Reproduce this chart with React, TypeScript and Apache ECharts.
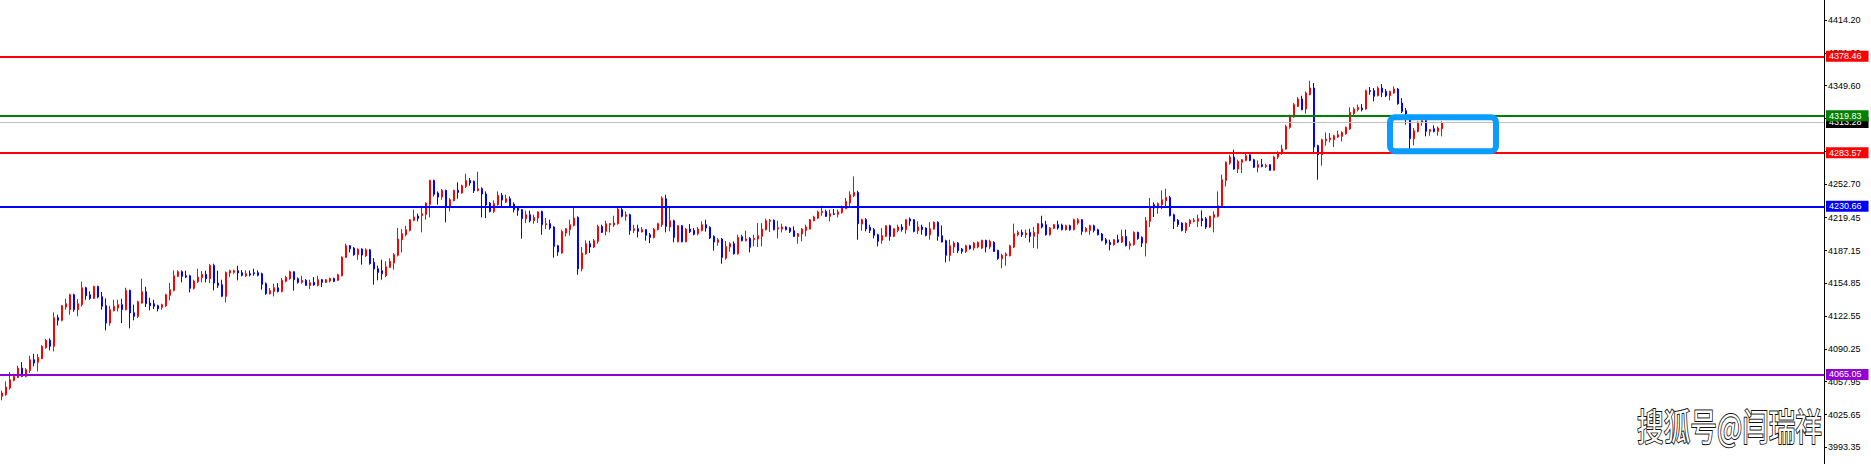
import React, { useEffect, useRef } from 'react';
import * as echarts from 'echarts';

// ---- data (price units) ----
const opens = [
4043.5,4045.1,4051.7,4059.3,4062.2,4071.4,4063.2,4069.1,4079.6,4077.0,
4080.6,4091.4,4098.7,4092.8,4121.0,4118.4,4131.5,4128.9,4143.6,4128.9,
4133.8,4150.5,4143.6,4140.0,4151.8,4141.7,4132.8,4115.7,4127.9,4130.5,
4133.8,4128.9,4147.9,4125.9,4122.3,4135.4,4146.6,4135.4,4134.8,4132.8,
4131.2,4132.8,4143.0,4147.9,4161.7,4166.3,4162.3,4162.3,4149.9,4156.4,
4160.4,4163.7,4159.4,4172.5,4155.1,4153.5,4142.0,4165.0,4165.6,4167.3,
4165.3,4162.3,4164.3,4165.3,4165.3,4164.3,4154.5,4144.6,4146.9,4150.5,
4146.9,4156.8,4159.4,4166.3,4159.4,4155.8,4157.8,4152.8,4155.8,4152.8,
4158.4,4155.8,4157.1,4159.7,4157.8,4162.3,4180.4,4191.9,4189.6,4183.0,
4188.6,4182.0,4187.9,4175.5,4169.2,4167.3,4162.3,4170.6,4174.8,4182.4,
4197.8,4202.7,4207.0,4216.9,4221.1,4221.4,4222.8,4232.6,4256.2,4243.8,
4239.8,4246.4,4229.7,4236.2,4246.4,4243.8,4250.3,4256.2,4255.3,4246.1,
4248.0,4242.8,4233.9,4225.7,4232.3,4241.5,4234.9,4238.2,4232.9,4229.0,
4227.4,4218.5,4222.4,4216.5,4219.1,4225.7,4212.6,4213.6,4210.3,4191.9,
4184.7,4204.4,4207.7,4211.9,4219.8,4169.2,4184.0,4193.9,4190.6,4196.2,
4210.9,4206.0,4212.6,4212.3,4213.6,4227.4,4220.8,4222.4,4207.0,4208.6,
4205.4,4207.7,4202.7,4200.1,4207.7,4212.6,4238.2,4210.3,4216.5,4195.8,
4211.6,4195.8,4208.3,4207.0,4203.7,4207.0,4212.6,4210.0,4201.1,4195.2,
4198.5,4179.7,4190.6,4193.9,4184.0,4200.8,4196.8,4199.1,4197.8,4198.5,
4201.1,4207.7,4215.9,4216.9,4208.3,4208.3,4210.3,4209.3,4206.7,4201.1,
4203.4,4207.0,4208.3,4216.5,4219.1,4224.7,4225.7,4220.8,4223.4,4222.8,
4224.7,4228.3,4233.9,4241.1,4244.4,4213.2,4217.5,4210.0,4207.7,4202.7,
4197.2,4201.1,4211.6,4201.1,4207.0,4210.3,4207.7,4218.2,4217.5,4206.7,
4210.3,4209.3,4202.7,4208.3,4214.9,4201.8,4196.8,4182.4,4190.6,4194.5,
4188.6,4186.3,4191.9,4189.6,4190.6,4189.6,4197.2,4190.6,4195.2,4187.3,
4179.1,4182.0,4182.0,4190.6,4202.7,4205.0,4202.7,4205.0,4201.1,4203.7,
4213.6,4212.6,4202.7,4209.0,4212.6,4212.3,4207.7,4211.6,4207.7,4214.2,
4217.5,4206.0,4207.0,4211.6,4207.7,4203.4,4197.8,4195.2,4192.9,4197.8,
4195.5,4201.1,4191.9,4192.9,4205.0,4200.1,4194.5,4215.9,4232.3,4229.0,
4232.3,4236.2,4239.5,4222.4,4216.9,4214.2,4207.0,4213.6,4215.9,4215.9,
4218.5,4218.5,4210.3,4219.8,4220.8,4230.0,4256.2,4273.3,4279.2,4267.4,
4274.0,4275.9,4281.5,4276.6,4269.1,4271.7,4270.0,4271.7,4266.1,4279.2,
4283.2,4287.1,4308.5,4318.6,4329.1,4336.4,4326.5,4340.6,4347.2,4290.4,
4281.5,4295.3,4296.3,4296.3,4298.9,4299.6,4302.2,4306.8,4321.9,4325.9,
4327.5,4326.5,4344.6,4344.6,4339.6,4347.2,4343.9,4339.6,4342.3,4346.2,
4332.4,4324.9,4316.0,4297.3,4304.5,4313.4,4315.0,4304.5,4307.1,4304.5,
4307.1
];

const highs = [
4049.1,4058.3,4067.5,4065.8,4073.7,4077.3,4071.4,4083.6,4085.5,4085.2,
4093.7,4100.0,4100.6,4126.2,4123.9,4133.5,4139.7,4144.6,4144.6,4139.4,
4156.4,4151.5,4146.9,4152.5,4152.5,4146.3,4140.0,4132.8,4138.7,4138.7,
4139.7,4150.5,4148.6,4133.8,4137.7,4159.4,4151.5,4140.7,4138.7,4133.8,
4134.8,4144.6,4155.1,4167.6,4167.6,4167.6,4167.3,4163.3,4158.4,4169.2,
4167.0,4167.3,4173.8,4174.2,4167.3,4158.4,4166.6,4168.3,4168.3,4172.2,
4167.9,4167.6,4167.6,4169.2,4167.6,4165.3,4155.8,4150.2,4154.5,4155.1,
4160.0,4162.3,4167.3,4166.6,4160.7,4162.3,4159.1,4158.4,4161.0,4162.3,
4159.1,4159.1,4160.4,4160.4,4164.3,4181.4,4193.9,4192.6,4190.6,4189.3,
4189.3,4189.3,4188.6,4179.7,4172.2,4178.1,4176.5,4179.4,4184.7,4209.3,
4208.3,4211.6,4218.2,4227.4,4223.4,4230.6,4234.6,4256.9,4256.9,4245.4,
4247.7,4247.1,4238.8,4247.1,4254.3,4252.0,4262.8,4258.5,4256.2,4264.8,
4249.4,4245.4,4234.9,4236.5,4245.4,4243.8,4242.1,4240.5,4234.6,4230.6,
4228.0,4226.4,4226.4,4222.4,4225.7,4226.4,4219.1,4217.5,4211.0,4192.9,
4207.7,4209.3,4217.5,4230.6,4220.8,4190.6,4197.2,4196.8,4198.5,4212.6,
4212.6,4216.5,4214.2,4221.4,4229.7,4229.0,4225.7,4223.4,4212.6,4212.6,
4210.3,4208.3,4204.4,4209.3,4214.6,4240.5,4242.1,4229.0,4217.5,4212.3,
4212.3,4209.3,4213.2,4209.3,4210.3,4215.9,4217.5,4211.0,4202.1,4199.5,
4199.5,4196.5,4195.2,4196.2,4202.7,4202.7,4206.7,4200.4,4202.7,4214.2,
4214.2,4218.5,4218.2,4217.8,4216.5,4213.6,4211.0,4210.0,4211.0,4204.4,
4209.3,4212.6,4218.2,4221.4,4226.4,4231.3,4227.4,4227.4,4228.0,4227.4,
4231.3,4238.8,4245.4,4260.2,4246.1,4218.5,4219.1,4212.6,4209.3,4203.7,
4209.3,4211.9,4212.6,4209.3,4212.6,4213.2,4218.2,4219.8,4218.2,4215.9,
4212.6,4210.0,4215.2,4215.9,4215.9,4211.9,4197.8,4197.8,4196.2,4195.5,
4189.6,4192.9,4192.9,4195.5,4196.2,4197.8,4197.8,4197.8,4196.2,4188.0,
4184.0,4185.3,4192.9,4213.6,4207.0,4207.7,4207.7,4208.6,4210.3,4214.2,
4221.4,4216.5,4210.3,4213.2,4216.5,4213.6,4212.6,4212.6,4218.5,4219.1,
4218.2,4210.3,4212.6,4212.6,4208.6,4204.4,4199.5,4197.8,4198.5,4202.7,
4207.7,4207.7,4196.2,4206.0,4205.7,4201.1,4220.1,4238.8,4234.6,4234.6,
4246.4,4248.0,4241.1,4223.4,4218.2,4214.9,4214.9,4218.2,4219.1,4222.4,
4226.7,4220.1,4221.4,4225.7,4245.4,4261.8,4275.0,4281.5,4286.5,4276.6,
4277.3,4283.2,4283.8,4277.6,4275.9,4277.3,4272.7,4272.3,4280.5,4284.8,
4291.4,4311.1,4320.9,4332.4,4338.3,4339.6,4343.9,4354.4,4352.1,4291.4,
4297.3,4303.5,4302.9,4301.2,4305.2,4304.5,4309.4,4328.2,4328.2,4330.8,
4331.4,4345.6,4348.2,4347.2,4348.8,4351.1,4346.2,4344.6,4348.8,4347.2,
4337.3,4327.5,4316.7,4307.8,4314.4,4316.0,4316.0,4306.8,4310.4,4309.4,
4314.4
];

const lows = [
4039.6,4044.2,4050.1,4058.3,4061.6,4062.5,4062.2,4066.5,4073.1,4068.1,
4080.3,4090.5,4088.8,4087.8,4113.4,4117.4,4128.9,4123.9,4126.9,4122.3,
4132.2,4138.7,4138.7,4139.4,4140.0,4128.9,4108.5,4113.1,4127.2,4127.2,
4115.7,4128.2,4110.5,4118.4,4120.7,4134.8,4131.5,4128.2,4129.5,4127.2,
4128.9,4131.5,4138.1,4146.9,4161.0,4155.8,4160.0,4145.9,4148.6,4155.1,
4155.8,4155.8,4155.1,4147.9,4150.2,4141.3,4136.1,4161.0,4164.3,4157.8,
4161.7,4161.0,4161.7,4162.3,4161.7,4148.6,4143.6,4143.9,4142.0,4145.9,
4145.9,4155.8,4158.4,4147.6,4154.5,4154.5,4152.5,4149.2,4152.5,4151.8,
4151.2,4155.1,4155.8,4156.1,4157.1,4161.7,4179.7,4185.3,4182.0,4178.1,
4173.2,4180.7,4173.2,4153.5,4157.8,4158.4,4161.0,4169.9,4168.3,4181.4,
4185.3,4201.1,4206.0,4215.9,4215.9,4205.0,4217.5,4219.8,4240.5,4232.3,
4237.2,4214.9,4225.7,4235.6,4238.2,4243.1,4248.7,4251.0,4243.8,4245.4,
4219.8,4219.1,4224.7,4224.1,4231.3,4229.0,4233.9,4229.7,4224.7,4221.4,
4198.8,4214.2,4214.9,4213.6,4214.2,4202.7,4208.3,4207.7,4180.1,4182.0,
4184.0,4201.1,4201.8,4210.9,4163.3,4166.6,4183.0,4184.7,4189.6,4193.9,
4204.4,4202.1,4205.0,4210.3,4212.6,4219.8,4216.5,4202.7,4204.4,4200.1,
4205.0,4196.8,4194.5,4199.1,4207.0,4210.3,4205.0,4206.0,4195.2,4195.2,
4195.2,4195.2,4204.4,4202.1,4202.1,4206.0,4205.7,4198.5,4187.0,4191.9,
4174.2,4178.1,4186.0,4183.0,4183.0,4196.2,4196.2,4185.3,4191.2,4190.6,
4191.2,4207.0,4205.4,4207.0,4199.1,4205.0,4207.0,4204.4,4200.4,4193.9,
4196.2,4201.1,4207.7,4215.9,4218.2,4221.4,4220.1,4215.9,4222.1,4219.8,
4223.4,4228.0,4229.0,4239.8,4197.8,4206.7,4206.0,4204.4,4199.1,4191.2,
4193.9,4200.4,4196.8,4200.4,4205.0,4205.7,4203.7,4211.6,4205.0,4203.4,
4202.7,4201.1,4197.8,4207.7,4196.8,4195.2,4175.5,4176.5,4184.7,4184.7,
4184.0,4184.7,4188.0,4187.3,4189.3,4188.6,4185.3,4188.6,4185.7,4178.1,
4169.6,4172.2,4181.4,4189.6,4201.1,4200.4,4199.5,4195.2,4189.6,4189.0,
4209.0,4201.8,4201.8,4208.3,4207.7,4207.0,4207.0,4206.7,4207.0,4212.6,
4202.7,4205.0,4202.7,4205.0,4202.1,4196.2,4192.9,4187.3,4191.9,4194.5,
4194.5,4191.2,4188.0,4191.9,4197.8,4190.6,4181.4,4210.3,4220.1,4223.4,
4228.0,4230.6,4220.8,4208.3,4210.3,4206.0,4204.4,4210.3,4214.9,4210.3,
4210.9,4208.3,4209.3,4205.0,4219.8,4229.0,4250.3,4271.7,4266.8,4263.5,
4263.5,4275.0,4275.0,4268.4,4264.1,4269.1,4268.4,4265.8,4265.8,4277.3,
4281.5,4286.5,4307.1,4318.0,4328.5,4325.2,4321.9,4340.0,4282.5,4256.9,
4270.7,4290.4,4293.7,4289.1,4297.9,4294.7,4301.2,4306.2,4318.6,4324.2,
4324.2,4325.9,4340.6,4334.1,4339.0,4338.3,4338.3,4335.0,4341.6,4330.8,
4322.6,4311.1,4287.1,4290.7,4303.5,4310.1,4299.6,4300.2,4303.5,4300.2,
4299.6
];

const closes = [
4046.8,4052.7,4059.9,4063.2,4071.4,4063.2,4069.8,4079.6,4076.3,4081.9,
4092.8,4098.7,4092.8,4121.0,4118.4,4132.8,4134.8,4143.6,4128.9,4134.8,
4150.5,4142.6,4140.0,4151.8,4141.3,4132.2,4115.7,4128.9,4132.2,4133.8,
4128.9,4147.9,4125.6,4122.3,4136.7,4146.6,4134.8,4132.8,4132.2,4129.8,
4133.8,4143.6,4148.6,4162.3,4166.3,4161.7,4161.0,4149.9,4157.1,4161.0,
4163.7,4159.4,4172.5,4155.1,4152.8,4142.0,4165.6,4167.3,4167.3,4165.0,
4162.7,4164.3,4163.0,4164.3,4162.7,4153.8,4144.6,4147.6,4150.5,4146.9,
4157.8,4160.7,4166.3,4158.4,4155.8,4157.8,4152.8,4155.4,4153.2,4158.4,
4155.8,4158.4,4159.7,4156.8,4163.3,4180.7,4191.9,4188.9,4183.0,4188.6,
4182.7,4187.9,4174.2,4168.9,4165.6,4164.3,4171.2,4176.5,4183.0,4198.5,
4203.7,4207.7,4217.5,4220.1,4218.8,4223.4,4233.9,4256.2,4242.5,4239.8,
4246.4,4229.7,4237.2,4246.4,4244.4,4251.0,4256.2,4253.6,4246.1,4248.0,
4242.8,4232.0,4225.7,4233.3,4241.5,4236.9,4238.2,4230.6,4227.4,4226.7,
4218.5,4222.4,4216.5,4219.8,4225.1,4212.6,4213.6,4209.3,4191.2,4185.7,
4206.0,4208.6,4212.6,4219.1,4169.2,4184.7,4193.9,4190.6,4196.8,4210.9,
4205.0,4213.6,4213.6,4214.2,4228.0,4220.8,4222.4,4207.0,4208.6,4206.0,
4207.7,4202.1,4200.1,4208.3,4213.6,4238.8,4210.9,4216.5,4200.1,4211.6,
4195.8,4208.3,4205.7,4203.1,4208.3,4212.6,4209.3,4199.5,4195.5,4197.8,
4180.4,4191.2,4193.9,4184.0,4200.1,4196.8,4198.5,4190.3,4199.1,4201.8,
4208.3,4216.5,4216.9,4207.7,4209.6,4210.3,4207.7,4206.0,4201.1,4203.7,
4208.3,4210.3,4217.5,4220.1,4225.1,4225.7,4220.8,4223.4,4222.8,4225.1,
4229.0,4235.6,4242.1,4244.4,4213.6,4217.5,4208.3,4207.0,4202.1,4196.2,
4201.8,4211.6,4201.1,4208.6,4210.3,4207.7,4217.5,4216.2,4206.0,4210.3,
4207.7,4202.1,4208.6,4214.9,4201.1,4195.5,4182.4,4191.9,4194.5,4187.0,
4186.3,4191.9,4188.9,4194.5,4195.2,4197.2,4190.6,4196.2,4186.3,4179.1,
4182.4,4183.7,4191.9,4203.7,4205.0,4202.7,4204.4,4201.1,4205.0,4213.6,
4210.3,4202.7,4209.3,4212.6,4209.3,4207.7,4211.6,4207.7,4217.5,4217.5,
4206.0,4209.0,4211.6,4207.0,4202.7,4197.2,4194.5,4192.9,4197.8,4195.5,
4201.1,4191.9,4193.9,4205.0,4198.8,4194.5,4216.5,4230.6,4229.0,4233.3,
4237.2,4239.5,4221.4,4215.9,4212.6,4207.0,4214.2,4216.9,4216.9,4218.5,
4216.5,4210.3,4220.8,4222.4,4231.3,4256.9,4274.0,4279.2,4267.4,4275.0,
4276.6,4280.5,4275.9,4269.1,4271.7,4270.0,4271.0,4266.1,4279.2,4283.8,
4287.1,4309.4,4319.3,4330.8,4336.4,4325.9,4342.3,4347.2,4289.1,4281.5,
4296.3,4296.9,4297.9,4300.2,4301.2,4303.5,4308.5,4323.2,4326.5,4328.2,
4325.9,4344.6,4343.9,4339.0,4347.2,4342.9,4339.6,4343.9,4346.2,4331.8,
4324.2,4321.6,4297.3,4305.2,4313.7,4315.0,4304.5,4306.2,4304.5,4307.8,
4313.3
];

const levelValues = [4378.46, 4319.83, 4283.57, 4230.66, 4065.05];
const bidPrice = 4313.28;
const axisTickValues = [
  3993.35, 4025.65, 4057.95, 4090.25, 4122.55, 4154.85, 4187.15,
  4219.45, 4252.7, 4285.0, 4317.3, 4349.6, 4381.9, 4414.2,
];
// labels whose text is fully covered by the price tags are not drawn
const axisLabelValues = [
  3993.35, 4025.65, 4057.95, 4090.25, 4122.55, 4154.85, 4187.15,
  4219.45, 4252.7, 4285.0, 4349.6, 4381.9, 4414.2,
];
const yMin = 3976.9;
const yMax = 4433.9;
const totalSlots = 456;
const boxStartIndex = 347;
const boxEndIndex = 374;
const boxTop = 4318.5;
const boxBottom = 4285.0;
const watermarkText = '搜狐号@闫瑞祥';

// ---- styles ----
const levelColors = ['#ff0000', '#008000', '#ff0000', '#0000ff', '#9400d3'];
const AXIS_FONT = '"Liberation Sans", Arial, sans-serif';

export default function App() {
  const ref = useRef<HTMLDivElement>(null);

  useEffect(() => {
    if (!ref.current) return;
    const chart = echarts.init(ref.current, undefined, { renderer: 'svg' });

    const categories = Array.from({ length: totalSlots }, (_, i) => String(i));
    const candleData = opens.map((o, i) => [o, closes[i], lows[i], highs[i]]);

    const labelFor = (color: string, text: string) => ({
      show: true,
      position: 'end',
      distance: 2,
      formatter: text,
      color: '#ffffff',
      backgroundColor: color,
      padding: [1, 7, 0, 3],
      fontSize: 9,
      lineHeight: 10,
      fontFamily: AXIS_FONT,
    });

    const markData: any[] = [
      {
        yAxis: bidPrice,
        lineStyle: { color: '#c0c0c0', width: 1, type: 'solid' },
        label: labelFor('#000000', bidPrice.toFixed(2)),
      },
    ];
    levelValues.forEach((v, i) => {
      markData.push({
        yAxis: v,
        lineStyle: { color: levelColors[i], width: 2, type: 'solid' },
        label: labelFor(levelColors[i], v.toFixed(2)),
      });
    });
    // green label drawn last so it overlays the bid label
    const green = markData.splice(2, 1)[0];
    markData.push(green);

    chart.setOption({
      animation: false,
      backgroundColor: '#ffffff',
      grid: { left: -1, right: 47, top: 0, bottom: 0, containLabel: false },
      xAxis: {
        type: 'category',
        data: categories,
        show: false,
        boundaryGap: true,
      },
      yAxis: {
        type: 'value',
        position: 'right',
        min: yMin,
        max: yMax,
        axisLine: { show: true, lineStyle: { color: '#000000', width: 1 } },
        axisTick: {
          show: true,
          length: 3,
          inside: false,
          lineStyle: { color: '#000000' },
          customValues: axisTickValues,
        },
        axisLabel: {
          show: true,
          customValues: axisLabelValues,
          formatter: (v: number) => v.toFixed(2),
          color: '#000000',
          fontSize: 9,
          fontFamily: AXIS_FONT,
          margin: 4,
        },
        splitLine: { show: false },
      },
      series: [
        {
          type: 'candlestick',
          data: candleData,
          barWidth: 2,
          itemStyle: {
            color: '#ff0000',
            color0: '#0000ff',
            borderColor: '#ff0000',
            borderColor0: '#0000ff',
            borderWidth: 1,
          },
          markLine: {
            silent: true,
            symbol: ['none', 'none'],
            animation: false,
            data: markData,
          },
        },
      ],
    });

    const p1 = chart.convertToPixel({ xAxisIndex: 0, yAxisIndex: 0 }, [boxStartIndex, boxTop]) as number[];
    const p2a = chart.convertToPixel({ xAxisIndex: 0, yAxisIndex: 0 }, [boxEndIndex - 1, boxBottom]) as number[];
    const p2b = chart.convertToPixel({ xAxisIndex: 0, yAxisIndex: 0 }, [boxEndIndex, boxBottom]) as number[];
    const x2 = (p2a[0] + p2b[0]) / 2;

    // watermark sits just left of the price axis, near the bottom
    const axisX = chart.getWidth() - 47;

    chart.setOption({
      graphic: [
        {
          type: 'rect',
          id: 'box',
          z: 50,
          shape: { x: p1[0], y: p1[1], width: x2 - p1[0], height: p2a[1] - p1[1], r: 5 },
          style: { fill: 'none', stroke: '#0a9cff', lineWidth: 6 },
          silent: true,
        },
        {
          type: 'text',
          id: 'wm',
          z: 60,
          x: axisX - 2,
          y: 425,
          scaleX: 0.72,
          scaleY: 1,
          style: {
            text: watermarkText,
            x: 0,
            y: 0,
            align: 'right',
            verticalAlign: 'middle',
            textAlign: 'right',
            textVerticalAlign: 'middle',
            font: '37px "Noto Sans CJK SC", sans-serif',
            fill: '#ffffff',
            stroke: '#111111',
            lineWidth: 2,
          },
          silent: true,
        },
      ],
    });

    return () => {
      chart.dispose();
    };
  }, []);

  return (
    <div
      ref={ref}
      style={{ position: 'fixed', left: 0, top: 0, width: 1871, height: 464, background: '#ffffff' }}
    />
  );
}
